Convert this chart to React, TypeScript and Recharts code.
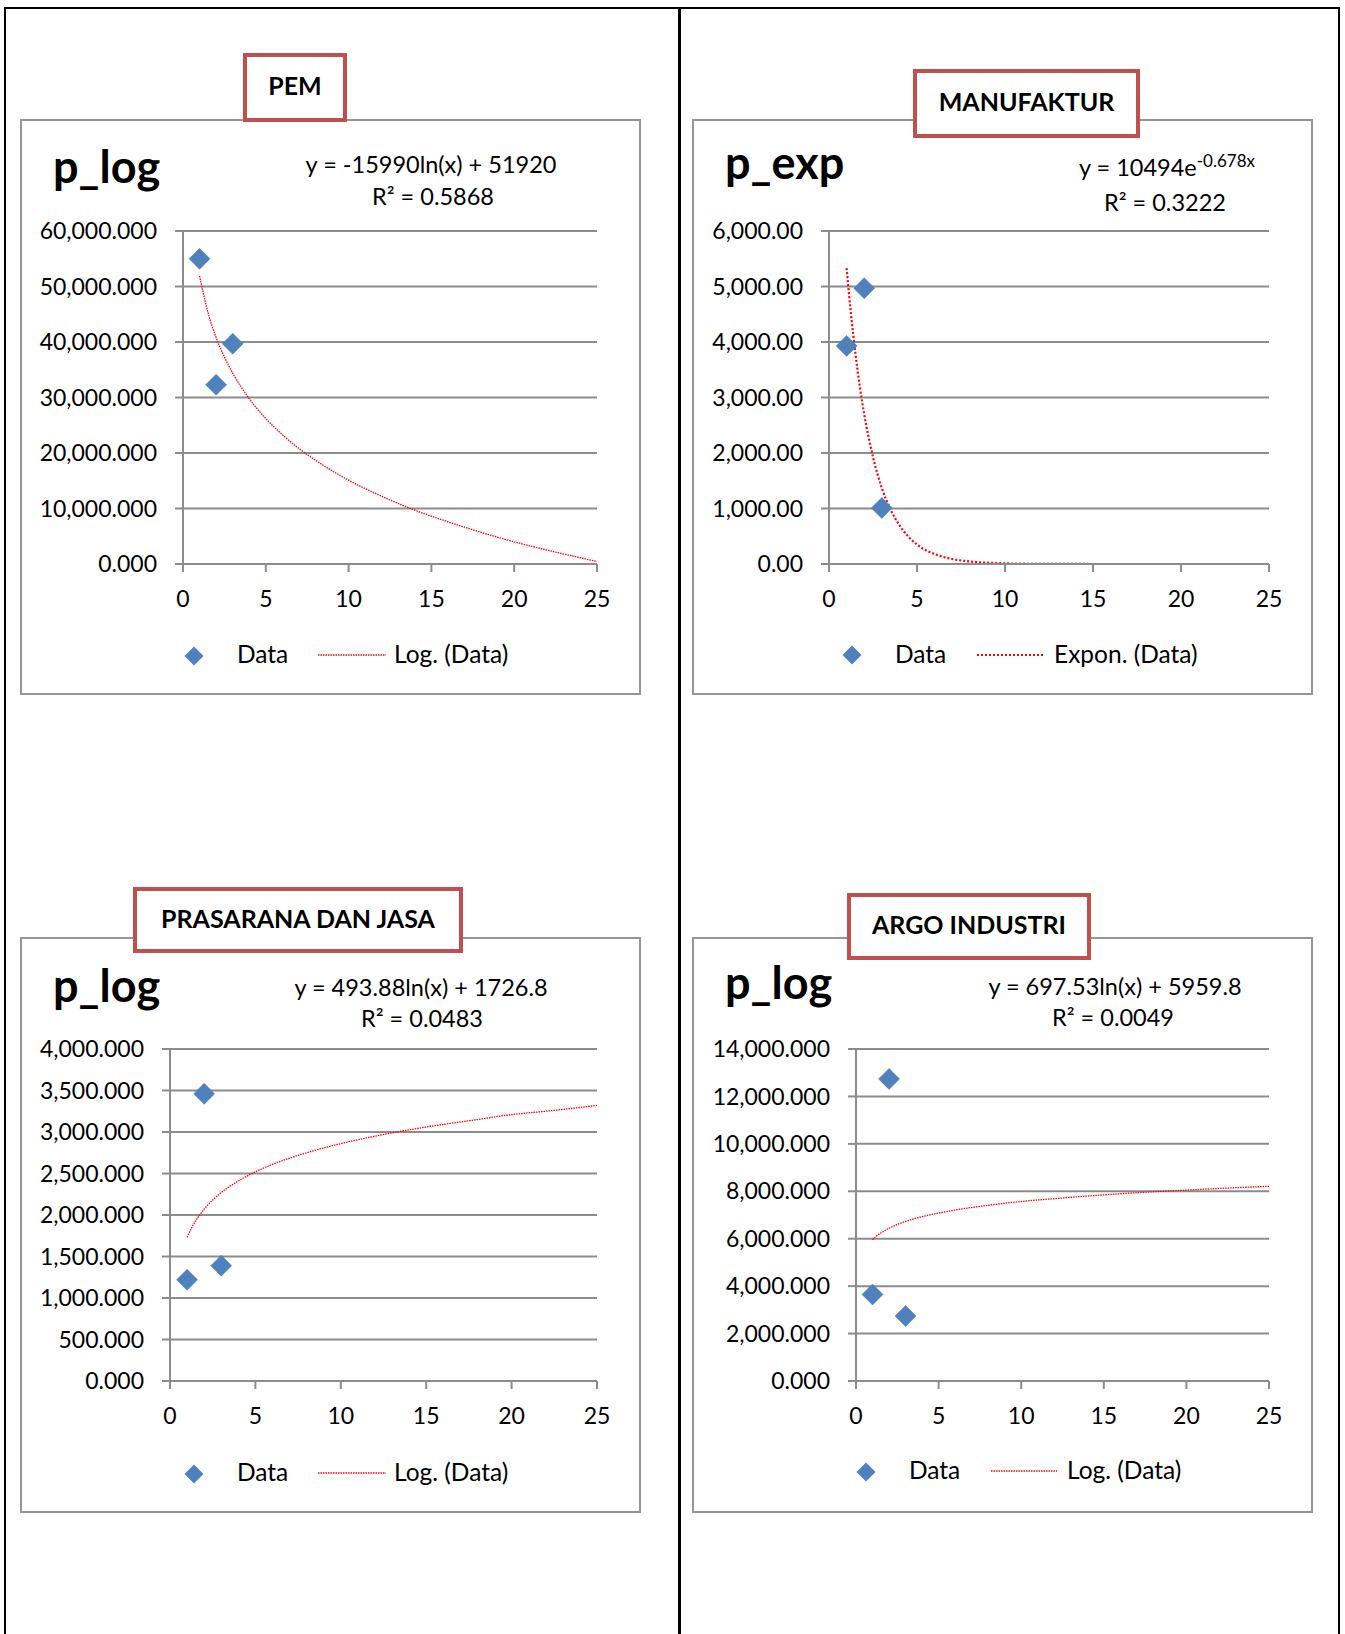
import React from 'react';
import { ComposedChart, Line, Scatter, XAxis, YAxis, CartesianGrid, Legend } from 'recharts';

// ---------- data ----------
const xTicks = [0, 5, 10, 15, 20, 25];

const pemX = [1, 2, 3];
const pemY = [55000, 32300, 39700];
const pemTrendX = [1, 1.5, 2, 2.5, 3, 4, 5, 6, 7, 8, 10, 12, 14, 16, 18, 20, 22, 25];
const pemTrendY = [51900, 45400, 40800, 37300, 34400, 29800, 26200, 23300, 20800, 18700, 15100, 12200, 9700, 7600, 5700, 4000, 2500, 450];
const pemYTicks = [0, 10000, 20000, 30000, 40000, 50000, 60000];

const manX = [1, 2, 3];
const manY = [3930, 4970, 1010];
const manTrendX = [1, 1.25, 1.5, 1.75, 2, 2.5, 3, 3.5, 4, 5, 6, 7, 8, 10, 12, 15, 23];
const manTrendY = [5330, 4500, 3800, 3200, 2700, 1930, 1370, 980, 700, 350, 180, 90, 46, 12, 3, 0.4, 0];
const manYTicks = [0, 1000, 2000, 3000, 4000, 5000, 6000];

const prasX = [1, 2, 3];
const prasY = [1220, 3460, 1390];
const prasTrendX = [1, 1.25, 1.5, 2, 2.5, 3, 4, 5, 6, 8, 10, 12, 15, 18, 20, 22, 25];
const prasTrendY = [1730, 1840, 1930, 2070, 2180, 2270, 2410, 2520, 2610, 2750, 2860, 2950, 3060, 3150, 3210, 3250, 3320];
const prasYTicks = [0, 500, 1000, 1500, 2000, 2500, 3000, 3500, 4000];

const argoX = [1, 2, 3];
const argoY = [3650, 12740, 2740];
const argoTrendX = [1, 1.25, 1.5, 2, 2.5, 3, 4, 5, 6, 8, 10, 12, 15, 18, 20, 22, 25];
const argoTrendY = [5960, 6120, 6240, 6440, 6600, 6730, 6930, 7080, 7210, 7410, 7570, 7690, 7850, 7980, 8050, 8120, 8210];
const argoYTicks = [0, 2000, 4000, 6000, 8000, 10000, 12000, 14000];

const sectorNames = ['PEM', 'MANUFAKTUR', 'PRASARANA DAN JASA', 'ARGO INDUSTRI'];
const headings = ['p_log', 'p_exp', 'p_log', 'p_log'];
const trendNames = ['Log. (Data)', 'Expon. (Data)', 'Log. (Data)', 'Log. (Data)'];
const dataName = 'Data';

// ---------- style ----------
const FONT = 'Lato, "Open Sans", sans-serif';
const BOX_W = 621;
const BOX_H = 576;
const GRID = '#8c8c8c';
const BLUE = '#4F81BD';
const RED = '#FF0000';
const TITLE_RED = '#C0504D';
const EQ_SIZE = 23.5;
const LEG_SIZE = 24.5;

const diamondPath = (cx: number, cy: number, r: number) =>
  `M${cx},${cy - r} L${cx + r},${cy} L${cx},${cy + r} L${cx - r},${cy} Z`;

const Diamond = (props: any) => {
  const { cx, cy } = props;
  if (cx == null || cy == null) return null;
  return <path d={diamondPath(cx, cy, 10.5)} fill={BLUE} stroke="#4A7AB5" strokeWidth={0.5} />;
};

type Cfg = {
  left: number; top: number;
  axisX: number; plotBottom: number;
  yMax: number; yTicks: number[]; decimals: number;
  xs: number[]; ys: number[]; tx: number[]; ty: number[];
  heading: string; headingY: number;
  eq: React.ReactNode; eqX: number; eqY: number; eqAnchor: 'middle' | 'start';
  r2: string; r2X: number; r2Y: number;
  title: string; tBox: [number, number, number, number];
  trendName: string; trendW: number; trendDash: string;
  lg: { dx: number; dy: number; dataX: number; l0: number; l1: number; ly: number; tx: number; ty: number };
};

const LEG_TOP = 500;

function Panel({ c }: { c: Cfg }) {
  const points = c.xs.map((x, i) => ({ x, y: c.ys[i] }));
  const trend = c.tx.map((x, i) => ({ x, y: c.ty[i] }));
  const fmt = (v: number) =>
    v.toLocaleString('en-US', { minimumFractionDigits: c.decimals, maximumFractionDigits: c.decimals });
  const tickStyle = { fill: '#000', fontSize: 23, fontFamily: FONT };
  const lg = c.lg;
  const legendContent = () => (
    <svg width={BOX_W} height={60} style={{ display: 'block' }}>
      <path d={diamondPath(lg.dx, lg.dy - LEG_TOP, 9.5)} fill={BLUE} />
      <text x={lg.dataX} y={lg.ty - LEG_TOP} fontSize={LEG_SIZE} fontFamily={FONT} fill="#000">{dataName}</text>
      <line x1={lg.l0} x2={lg.l1} y1={lg.ly - LEG_TOP} y2={lg.ly - LEG_TOP} stroke={RED}
        strokeWidth={c.trendW} strokeDasharray={c.trendDash} />
      <text x={lg.tx} y={lg.ty - LEG_TOP} fontSize={LEG_SIZE} fontFamily={FONT} fill="#000">{c.trendName}</text>
    </svg>
  );
  return (
    <>
      <div style={{
        position: 'absolute', left: c.left, top: c.top, width: BOX_W, height: BOX_H,
        boxSizing: 'border-box', border: '2px solid #969696', background: '#fff',
      }} />
      <div style={{ position: 'absolute', left: c.left, top: c.top, width: BOX_W, height: BOX_H }}>
        <ComposedChart width={BOX_W} height={BOX_H}
          margin={{ top: 112, right: BOX_W - 577, left: 0, bottom: BOX_H - c.plotBottom - 40 }}>
          <CartesianGrid vertical={false} stroke={GRID} strokeWidth={2} />
          <XAxis type="number" dataKey="x" domain={[0, 25]} ticks={xTicks} allowDataOverflow
            height={40} tickSize={8} tickMargin={19} interval={0}
            axisLine={{ stroke: GRID, strokeWidth: 2 }} tickLine={{ stroke: GRID, strokeWidth: 2 }}
            tick={tickStyle} />
          <YAxis type="number" dataKey="y" domain={[0, c.yMax]} ticks={c.yTicks} allowDataOverflow
            width={c.axisX} tickSize={8} tickMargin={18} interval={0} tickFormatter={fmt}
            axisLine={{ stroke: GRID, strokeWidth: 2 }} tickLine={{ stroke: GRID, strokeWidth: 2 }}
            tick={tickStyle} />
          <Line data={trend} dataKey="y" name={c.trendName} type="monotone" dot={false} activeDot={false}
            stroke={RED} strokeWidth={c.trendW} strokeDasharray={c.trendDash} isAnimationActive={false} />
          <Scatter data={points} dataKey="y" name={dataName} shape={Diamond} isAnimationActive={false} />
          <Legend layout="horizontal" verticalAlign="middle" align="center" content={legendContent}
            wrapperStyle={{ left: 0, top: LEG_TOP, width: BOX_W, height: 60, margin: 0, padding: 0 }} />
        </ComposedChart>
      </div>
      <svg style={{ position: 'absolute', left: c.left, top: c.top, pointerEvents: 'none' }}
        width={BOX_W} height={120}>
        <text x={33} y={c.headingY} fontSize={45} fontWeight={700} fontFamily={FONT} fill="#000">{c.heading}</text>
        <text x={c.eqX} y={c.eqY} textAnchor={c.eqAnchor} fontSize={EQ_SIZE} fontFamily={FONT} fill="#000">{c.eq}</text>
        <text x={c.r2X} y={c.r2Y} textAnchor={c.eqAnchor} fontSize={EQ_SIZE} fontFamily={FONT} fill="#000">{c.r2}</text>
      </svg>
      <div style={{
        position: 'absolute', left: c.tBox[0], top: c.tBox[1], width: c.tBox[2] - c.tBox[0], height: c.tBox[3] - c.tBox[1],
        boxSizing: 'border-box', border: `4px solid ${TITLE_RED}`, background: '#fff',
        display: 'flex', alignItems: 'center', justifyContent: 'center', paddingBottom: 5,
        fontFamily: FONT, fontWeight: 700, fontSize: 25, color: '#000', whiteSpace: 'nowrap',
      }}>{c.title}</div>
    </>
  );
}

const logLegend = { dx: 174, dy: 537, dataX: 217, l0: 298, l1: 366, ly: 536, tx: 374, ty: 544 };

const panels: Cfg[] = [
  {
    left: 20, top: 119, axisX: 163, plotBottom: 445, yMax: 60000, yTicks: pemYTicks, decimals: 3,
    xs: pemX, ys: pemY, tx: pemTrendX, ty: pemTrendY,
    heading: headings[0], headingY: 64,
    eq: 'y = -15990ln(x) + 51920', eqX: 411, eqY: 54, eqAnchor: 'middle',
    r2: 'R² = 0.5868', r2X: 413, r2Y: 86,
    title: sectorNames[0], tBox: [243, 53, 347, 122],
    trendName: trendNames[0], trendW: 1.3, trendDash: '1.5 1',
    lg: logLegend,
  },
  {
    left: 692, top: 119, axisX: 137, plotBottom: 445, yMax: 6000, yTicks: manYTicks, decimals: 2,
    xs: manX, ys: manY, tx: manTrendX, ty: manTrendY,
    heading: headings[1], headingY: 60,
    eq: (<>
      <tspan>y = 10494e</tspan>
      <tspan dy={-9} fontSize={17}>-0.678x</tspan>
    </>), eqX: 387, eqY: 57, eqAnchor: 'start',
    r2: 'R² = 0.3222', r2X: 412, r2Y: 92,
    title: sectorNames[1], tBox: [913, 69, 1140, 138],
    trendName: trendNames[1], trendW: 2.2, trendDash: '2 2',
    lg: { dx: 160, dy: 536, dataX: 203, l0: 285, l1: 351, ly: 536, tx: 362, ty: 544 },
  },
  {
    left: 20, top: 937, axisX: 150, plotBottom: 444, yMax: 4000, yTicks: prasYTicks, decimals: 3,
    xs: prasX, ys: prasY, tx: prasTrendX, ty: prasTrendY,
    heading: headings[2], headingY: 65,
    eq: 'y = 493.88ln(x) + 1726.8', eqX: 401, eqY: 59, eqAnchor: 'middle',
    r2: 'R² = 0.0483', r2X: 402, r2Y: 90,
    title: sectorNames[2], tBox: [133, 887, 463, 953],
    trendName: trendNames[2], trendW: 1.3, trendDash: '1.5 1',
    lg: logLegend,
  },
  {
    left: 692, top: 937, axisX: 164, plotBottom: 444, yMax: 14000, yTicks: argoYTicks, decimals: 3,
    xs: argoX, ys: argoY, tx: argoTrendX, ty: argoTrendY,
    heading: headings[3], headingY: 62,
    eq: 'y = 697.53ln(x) + 5959.8', eqX: 423, eqY: 58, eqAnchor: 'middle',
    r2: 'R² = 0.0049', r2X: 421, r2Y: 89,
    title: sectorNames[3], tBox: [847, 893, 1091, 960],
    trendName: trendNames[3], trendW: 1.3, trendDash: '1.5 1',
    lg: { dx: 174, dy: 535, dataX: 217, l0: 299, l1: 365, ly: 534, tx: 375, ty: 542 },
  },
];

export default function App() {
  return (
    <div style={{ position: 'relative', width: 1345, height: 1634, background: '#fff', overflow: 'hidden', fontFamily: FONT }}>
      <style>{'body{margin:0}'}</style>
      <div style={{
        position: 'absolute', left: 4, top: 7, width: 1336, height: 1700, boxSizing: 'border-box',
        borderTop: '2.5px solid #000', borderLeft: '2px solid #000', borderRight: '2.5px solid #000',
      }} />
      <div style={{ position: 'absolute', left: 678, top: 7, width: 2.5, height: 1700, background: '#000' }} />
      {panels.map((p, i) => <Panel key={i} c={p} />)}
    </div>
  );
}
